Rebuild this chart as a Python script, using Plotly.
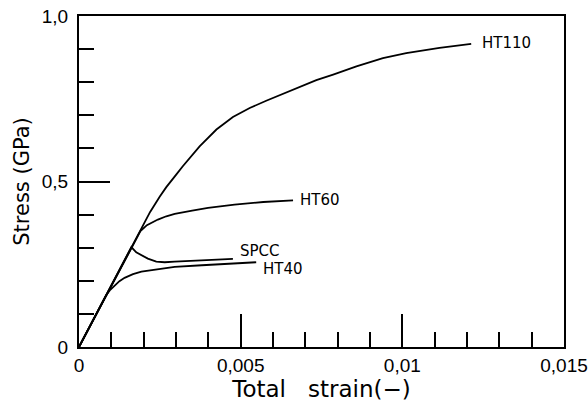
import plotly.graph_objects as go

# Stress-strain curves (total strain, stress in GPa)
ht110_strain = [0, 0.0018, 0.0022, 0.0025, 0.0027, 0.0030, 0.00321, 0.00373, 0.00425, 0.00476,
                0.00528, 0.00579, 0.00631, 0.00682, 0.00734, 0.00786, 0.00858, 0.0094,
                0.01012, 0.01115, 0.01213]
ht110_stress = [0, 0.3355, 0.408, 0.455, 0.483, 0.520, 0.546, 0.606, 0.657, 0.695,
                0.722, 0.744, 0.765, 0.786, 0.806, 0.823, 0.848, 0.873,
                0.888, 0.904, 0.916]

ht60_strain = [0, 0.0018, 0.0019, 0.0021, 0.00244, 0.0027, 0.00296, 0.0035, 0.00399,
               0.00481, 0.0057, 0.00662]
ht60_stress = [0, 0.3355, 0.350, 0.368, 0.385, 0.395, 0.402, 0.412, 0.420,
               0.430, 0.438, 0.443]

spcc_strain = [0, 0.00162, 0.00177, 0.00193, 0.00213, 0.00239, 0.00265, 0.00296, 0.0038, 0.00476]
spcc_stress = [0, 0.302, 0.286, 0.277, 0.267, 0.258, 0.256, 0.258, 0.262, 0.266]

ht40_strain = [0, 0.00084, 0.00095, 0.0011, 0.00125, 0.00141, 0.00167, 0.00193, 0.0025,
               0.00296, 0.0038, 0.00481, 0.00548]
ht40_stress = [0, 0.1566, 0.171, 0.186, 0.199, 0.209, 0.220, 0.228, 0.237,
               0.242, 0.247, 0.252, 0.256]

curve_names = ["HT110", "HT60", "SPCC", "HT40"]
label_strain = [0.01239, 0.00676, 0.00491, 0.00564]
label_stress = [0.917, 0.445, 0.291, 0.237]

x_tick_vals = [0, 0.005, 0.01, 0.015]
x_tick_text = ["0", "0,005", "0,01", "0,015"]
y_tick_vals = [0, 0.5, 1.0]
y_tick_text = ["0", "0,5", "1,0"]

FONT = "DejaVu Sans"
TICK_FONT = "Liberation Sans"

fig = go.Figure()
curves = [
    (ht110_strain, ht110_stress),
    (ht60_strain, ht60_stress),
    (spcc_strain, spcc_stress),
    (ht40_strain, ht40_stress),
]
for (xs, ys), name in zip(curves, curve_names):
    fig.add_trace(go.Scatter(
        x=xs, y=ys, mode="lines", name=name,
        line=dict(color="black", width=1.8),
        showlegend=False, hoverinfo="skip",
    ))

for name, xv, yv in zip(curve_names, label_strain, label_stress):
    fig.add_annotation(
        x=xv, y=yv, text=name, showarrow=False,
        xanchor="left", yanchor="middle",
        font=dict(family=FONT, size=15, color="black"),
    )

fig.update_xaxes(
    range=[0, 0.0150001],
    tickmode="array", tickvals=x_tick_vals, ticktext=x_tick_text,
    ticks="inside", ticklen=33, tickwidth=1.6, tickcolor="black",
    minor=dict(dtick=0.001, tick0=0, ticks="inside", ticklen=15,
               tickwidth=1.6, tickcolor="black", showgrid=False),
    showline=True, linecolor="black", linewidth=2, mirror=True,
    showgrid=False, zeroline=False, automargin=False,
    ticklabeloverflow="allow",
    tickfont=dict(family=TICK_FONT, size=19, color="black"),
    title=dict(text="Total\u00a0\u00a0\u00a0strain(\u2212)",
               font=dict(family=FONT, size=23, color="black"), standoff=6),
)
fig.update_yaxes(
    range=[0, 1.0],
    tickmode="array", tickvals=y_tick_vals, ticktext=y_tick_text,
    ticks="inside", ticklen=31, tickwidth=1.6, tickcolor="black",
    minor=dict(dtick=0.1, tick0=0, ticks="inside", ticklen=15,
               tickwidth=1.6, tickcolor="black", showgrid=False),
    showline=True, linecolor="black", linewidth=2, mirror=True,
    showgrid=False, zeroline=False, automargin=False,
    ticklabelstandoff=5,
    tickfont=dict(family=TICK_FONT, size=19, color="black"),
    title=dict(text="Stress\u00a0(GPa)",
               font=dict(family=FONT, size=21, color="black"), standoff=6),
)

fig.update_layout(
    width=588, height=409,
    margin=dict(l=79, r=24, t=16, b=62),
    paper_bgcolor="white", plot_bgcolor="white",
)

fig.write_html("out.html")
